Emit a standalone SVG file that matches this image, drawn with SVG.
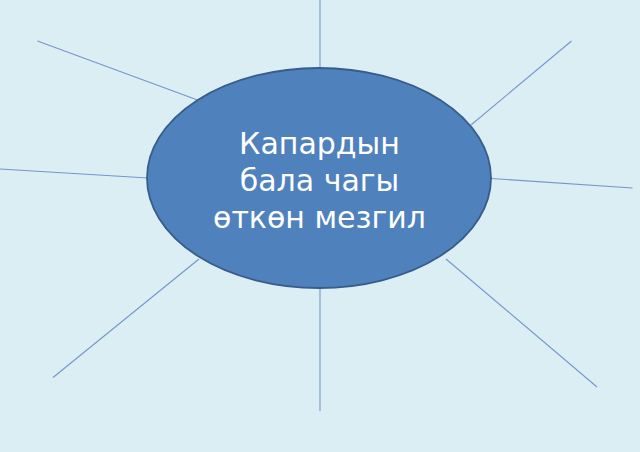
<svg xmlns="http://www.w3.org/2000/svg" width="640" height="452" viewBox="0 0 640 452">
<style>
.ray{stroke:#7596CB;stroke-width:1.1;fill:none}
.node{fill:#4F81BD;stroke:#385D8A;stroke-width:1.8}
.lbl{font-family:"DejaVu Sans",Verdana,sans-serif;font-size:30px;fill:#FFFFFF;text-anchor:middle}
</style>
<rect x="0" y="0" width="640" height="452" fill="#DBEEF4"/>
<g id="connectors">
<line class="ray" x1="320" y1="0" x2="320" y2="68"/>
<line class="ray" x1="37.5" y1="41" x2="197.5" y2="100"/>
<line class="ray" x1="571.5" y1="41" x2="471" y2="125"/>
<line class="ray" x1="0" y1="169" x2="148" y2="178"/>
<line class="ray" x1="491" y1="178.5" x2="632.5" y2="188"/>
<line class="ray" x1="53" y1="377.5" x2="199" y2="259"/>
<line class="ray" x1="446" y1="259" x2="597" y2="387"/>
<line class="ray" x1="320" y1="288" x2="320" y2="411"/>
</g>
<g id="center">
<ellipse class="node" cx="319" cy="178" rx="172" ry="110"/>
<text class="lbl" x="319.5" y="154">Капардын</text>
<text class="lbl" x="319.5" y="191">бала чагы</text>
<text class="lbl" x="319.5" y="228">өткөн мезгил</text>
</g>
</svg>
